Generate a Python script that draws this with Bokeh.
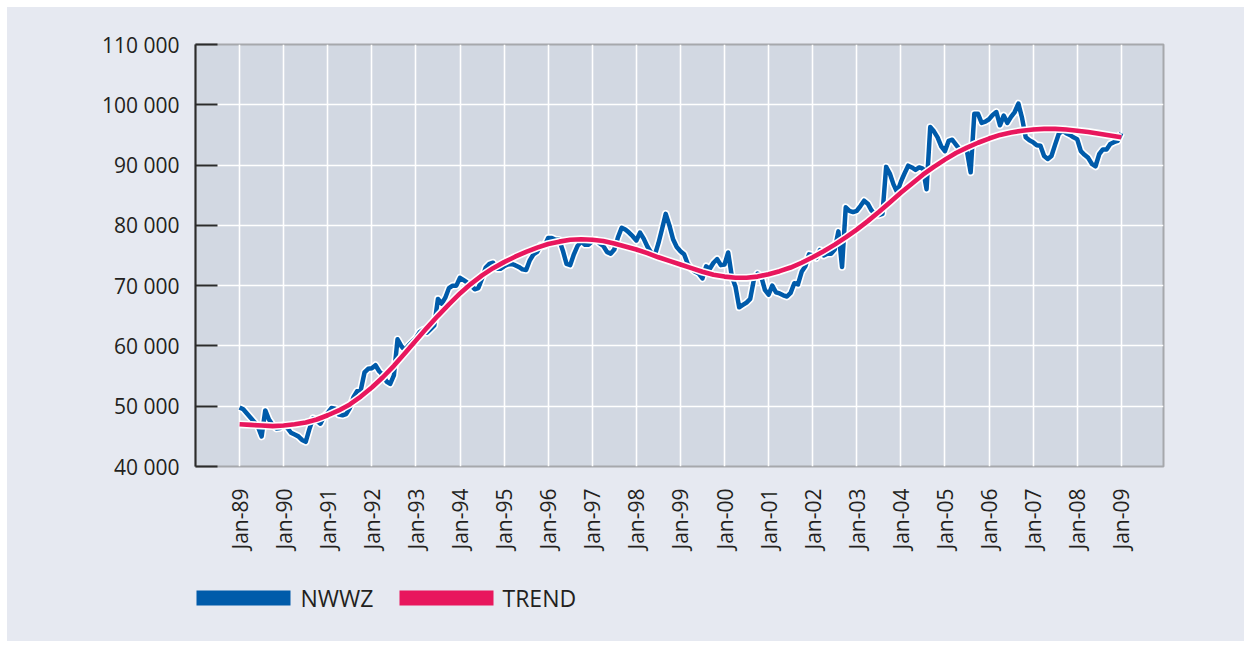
from bokeh.plotting import figure
from bokeh.layouts import column
from bokeh.models import FixedTicker, Range1d
from bokeh.core.properties import value
from bokeh.embed import file_html
from bokeh.resources import INLINE

# ---------------- data ----------------
x_tick_months = [0, 12, 24, 36, 48, 60, 72, 84, 96, 108, 120, 132, 144, 156, 168, 180, 192, 204, 216, 228, 240]
x_tick_labels = ["Jan-89", "Jan-90", "Jan-91", "Jan-92", "Jan-93", "Jan-94", "Jan-95", "Jan-96", "Jan-97",
                 "Jan-98", "Jan-99", "Jan-00", "Jan-01", "Jan-02", "Jan-03", "Jan-04", "Jan-05", "Jan-06",
                 "Jan-07", "Jan-08", "Jan-09"]
y_ticks = [40000, 50000, 60000, 70000, 80000, 90000, 100000, 110000]
y_tick_labels = ["40 000", "50 000", "60 000", "70 000", "80 000", "90 000", "100 000", "110 000"]

# NWWZ, monthly Jan-89 .. Jan-09
nwwz = [
    49800, 49500, 48800, 48100, 47400, 46600, 45000, 49300, 47800, 46900, 46300, 46400,  # 1989
    46800, 46400, 45600, 45300, 45000, 44400, 44100, 46200, 48000, 47600, 47100, 48300,  # 1990
    48900, 49700, 49600, 48600, 48500, 48700, 49700, 51500, 52500, 52700, 55600, 56200,  # 1991
    56300, 56800, 55800, 55200, 54100, 53700, 55100, 61100, 60000, 59300, 60100, 60700,  # 1992
    61300, 62300, 62700, 62200, 62800, 63400, 67800, 67000, 68000, 69600, 70000, 70000,  # 1993
    71300, 70900, 70500, 70000, 69400, 69600, 71200, 73000, 73600, 73800, 72800, 72800,  # 1994
    73200, 73500, 73600, 73400, 73100, 72700, 72600, 74200, 75200, 75600, 76700, 76600,  # 1995
    77900, 77900, 77600, 77600, 75800, 73600, 73400, 75200, 76600, 77300, 76800, 76800,  # 1996
    77400, 77600, 77000, 76600, 75600, 75300, 76000, 78000, 79600, 79300, 78800, 78200,  # 1997
    77500, 78800, 77800, 76500, 75500, 75000, 77000, 79400, 81900, 80000, 77700, 76400,  # 1998
    75700, 75200, 73600, 72800, 72300, 72000, 71200, 73200, 72800, 73800, 74400, 73400,  # 1999
    73500, 75500, 71500, 69800, 66400, 66800, 67200, 67800, 71000, 72000, 71500, 69300,  # 2000
    68500, 70000, 68900, 68700, 68400, 68200, 68800, 70400, 70200, 72300, 73200, 75200,  # 2001
    75000, 74600, 75900, 75000, 75300, 75300, 76000, 79000, 73100, 83000, 82400, 82200,  # 2002
    82400, 83200, 84100, 83600, 82500, 81800, 81700, 81900, 89700, 88600, 86800, 85500,  # 2003
    87200, 88600, 89900, 89600, 89200, 89600, 89400, 86000, 96300, 95600, 94600, 93100,  # 2004
    92300, 94000, 94200, 93400, 92600, 92600, 92300, 88800, 98500, 98500, 97000, 97200,  # 2005
    97600, 98300, 98800, 96600, 98200, 97000, 98000, 98800, 100200, 97800, 94600, 94100,  # 2006
    93800, 93300, 93200, 91500, 91000, 91500, 93400, 95200, 95700, 95300, 95000, 94600,  # 2007
    94300, 92300, 91700, 91200, 90200, 89800, 91800, 92600, 92600, 93500, 93800, 94000,  # 2008
    95300,                                                                                # 2009
]
nwwz_months = list(range(len(nwwz)))

# TREND, read every quarter (month index 0, 3, 6, ...)
trend_months = list(range(0, 241, 3))
trend = [
    47000, 46900, 46800, 46700, 46800, 47000, 47300, 47800,
    48500, 49300, 50300, 51600, 53100, 54800, 56700, 58800,
    60900, 63000, 65000, 66900, 68700, 70300, 71700, 72900,
    73900, 74800, 75600, 76300, 76900, 77300, 77600, 77700,
    77600, 77400, 77000, 76500, 76000, 75400, 74700, 74100,
    73500, 72900, 72300, 71800, 71500, 71300, 71300, 71500,
    71900, 72400, 73000, 73800, 74700, 75700, 76800, 78000,
    79300, 80700, 82200, 83800, 85400, 86900, 88400, 89700,
    90900, 92000, 92900, 93700, 94400, 95000, 95400, 95700,
    95900, 96000, 96000, 95900, 95700, 95500, 95200, 94900,
    94600,
]

legend_labels = ["NWWZ", "TREND"]

# ---------------- style ----------------
BLUE = "#005baa"
PINK = "#e8175d"
OUTER = "#e6e9f1"
INNER = "#d2d8e2"
TEXT = "#231f20"
FONT = "Open Sans"
W = 1237
BL, BR = 188, 81          # left / right borders shared by both figures

p = figure(width=W, height=568, output_backend="svg", toolbar_location=None,
           x_range=Range1d(-12, 251.5), y_range=Range1d(40000, 110000),
           min_border_left=BL, min_border_right=BR, min_border_top=37, min_border_bottom=109)
p.background_fill_color = INNER
p.border_fill_color = OUTER
p.outline_line_color = "#a6a8ac"
p.outline_line_width = 2

# grid
p.xgrid.grid_line_color = "white"
p.ygrid.grid_line_color = "white"
p.xgrid.grid_line_width = 1.6
p.ygrid.grid_line_width = 1.6

# x axis
p.xaxis.ticker = FixedTicker(ticks=x_tick_months)
p.xaxis.major_label_overrides = {m: l for m, l in zip(x_tick_months, x_tick_labels)}
p.xaxis.major_label_orientation = 1.5707963
p.xaxis.axis_line_color = None
p.xaxis.major_tick_line_color = None
p.xaxis.minor_tick_line_color = None
p.xaxis.major_tick_in = 0
p.xaxis.major_tick_out = 0
p.xaxis.major_label_standoff = 22
p.xaxis.major_label_text_font = FONT
p.xaxis.major_label_text_font_size = "21px"
p.xaxis.major_label_text_color = TEXT

# y axis
p.yaxis.ticker = FixedTicker(ticks=y_ticks)
p.yaxis.major_label_overrides = {v: l for v, l in zip(y_ticks, y_tick_labels)}
p.yaxis.axis_line_color = "#2b2b2b"
p.yaxis.axis_line_width = 2
p.yaxis.major_tick_line_color = "#2b2b2b"
p.yaxis.major_tick_line_width = 2
p.yaxis.major_tick_in = 22
p.yaxis.major_tick_out = 0
p.yaxis.minor_tick_line_color = None
p.yaxis.major_label_standoff = 16
p.yaxis.major_label_text_font = FONT
p.yaxis.major_label_text_font_size = "21px"
p.yaxis.major_label_text_color = TEXT

# series (white halo beneath each line)
p.line(nwwz_months, nwwz, line_color="white", line_width=7.8, line_join="round")
p.line(nwwz_months, nwwz, line_color=BLUE, line_width=4.5, line_join="round")
p.line(trend_months, trend, line_color="white", line_width=7.8, line_join="round")
p.line(trend_months, trend, line_color=PINK, line_width=4.6, line_join="round")

# ---------------- legend strip ----------------
# frame of this strip lines up with the main frame (page x 195 .. 1163); coordinates are page pixels
LH = 66
leg = figure(width=W, height=LH, output_backend="svg", toolbar_location=None,
             x_range=Range1d(195, 1163), y_range=Range1d(0, LH),
             x_axis_type=None, y_axis_type=None,
             min_border_left=BL, min_border_right=BR, min_border_top=0, min_border_bottom=0)
leg.background_fill_color = OUTER
leg.background_fill_alpha = 0
leg.border_fill_color = OUTER
leg.border_fill_alpha = 0
leg.outline_line_color = None
leg.xgrid.visible = False
leg.ygrid.visible = False

sw_left = [196, 399]
sw_right = [290, 493]
sw_colors = [BLUE, PINK]
leg.quad(left=sw_left, right=sw_right, bottom=[36, 36], top=[51, 51], fill_color=sw_colors, line_color=None)
leg.text(x=[300, 502], y=[43.5, 43.5], text=legend_labels, text_font=value(FONT),
         text_font_size="23px", text_color=TEXT, text_baseline="middle", text_align="left")

layout = column(p, leg, spacing=0, margin=(7, 0, 0, 7), styles={"background-color": OUTER})
open("out.html", "w").write(file_html(layout, INLINE))
